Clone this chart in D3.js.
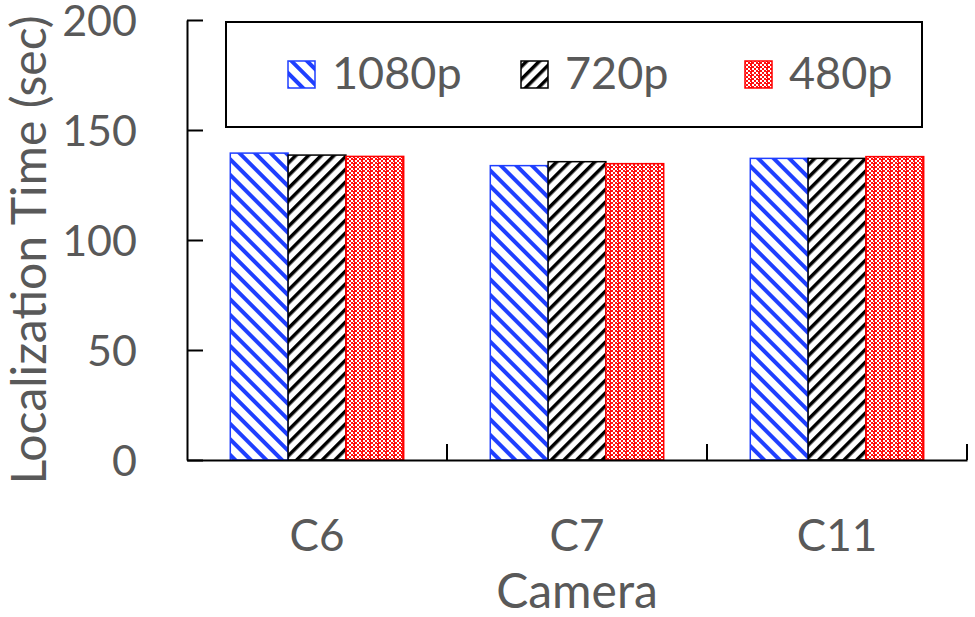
<!DOCTYPE html>
<html>
<head>
<meta charset="utf-8">
<script src="https://cdn.jsdelivr.net/npm/d3@7"></script>
<style>
  body { margin: 0; background: #fff; }
  text { font-family: Lato, "Open Sans", sans-serif; fill: #595959; }
</style>
</head>
<body>
<svg id="chart" width="975" height="617"></svg>
<script>
// chart data
var cameras = ['C6', 'C7', 'C11']
var resolutions = ['1080p', '720p', '480p']
var res1080 = [139.5, 133.8, 137.1]
var res720 = [138.6, 135.6, 137.1]
var res480 = [138.0, 134.7, 137.9]
var yTicks = [0, 50, 100, 150, 200]

var seriesValues = [res1080, res720, res480]
var strokeColors = ['#1f3fff', '#000000', '#ff0000']

var svg = d3.select('#chart')
var margin = {top: 20, right: 8, bottom: 157, left: 187}
var width = 975 - margin.left - margin.right
var height = 617 - margin.top - margin.bottom

// patterns for bar fills
var defs = svg.append('defs')

// blue: stripes running top-left to bottom-right
var p1 = defs.append('pattern')
  .attr('id', 'pat0')
  .attr('patternUnits', 'userSpaceOnUse')
  .attr('width', 11).attr('height', 11)
  .attr('patternTransform', 'rotate(45)')
p1.append('rect').attr('width', 11).attr('height', 11).attr('fill', '#fff')
p1.append('rect').attr('width', 11).attr('height', 4).attr('fill', '#1f3fff')

// black: stripes running bottom-left to top-right
var p2 = defs.append('pattern')
  .attr('id', 'pat1')
  .attr('patternUnits', 'userSpaceOnUse')
  .attr('width', 9).attr('height', 9)
  .attr('patternTransform', 'rotate(-45)')
p2.append('rect').attr('width', 9).attr('height', 9).attr('fill', '#fff')
p2.append('rect').attr('width', 9).attr('height', 3.5).attr('fill', '#000')

// red: fine checker
var p3 = defs.append('pattern')
  .attr('id', 'pat2')
  .attr('patternUnits', 'userSpaceOnUse')
  .attr('width', 8).attr('height', 8)
p3.append('rect').attr('width', 8).attr('height', 8).attr('fill', '#ff1010')
;[[0, 0], [4, 0], [2, 2], [0, 4], [4, 4], [2, 6]].forEach(function (c) {
  p3.append('rect').attr('x', c[0]).attr('y', c[1]).attr('width', 2).attr('height', 2).attr('fill', '#fff')
})
p3.append('rect').attr('x', 6).attr('y', 2).attr('width', 1).attr('height', 1).attr('fill', '#fff')
p3.append('rect').attr('x', 6).attr('y', 6).attr('width', 1).attr('height', 1).attr('fill', '#fff')

var g = svg.append('g')
  .attr('transform', 'translate(' + margin.left + ',' + margin.top + ')')

var x0 = d3.scaleBand()
  .domain(cameras)
  .range([0, width])

var groupWidth = x0.bandwidth() * 0.667
var x1 = d3.scaleBand()
  .domain(resolutions)
  .range([0, groupWidth])

var y = d3.scaleLinear()
  .domain([0, 200])
  .range([height, 0])

// bars
cameras.forEach(function (cam, ci) {
  var gx = x0(cam) + (x0.bandwidth() - groupWidth) / 2
  resolutions.forEach(function (r, si) {
    var v = seriesValues[si][ci]
    g.append('rect')
      .attr('x', gx + x1(r))
      .attr('y', y(v))
      .attr('width', x1.bandwidth())
      .attr('height', height - y(v))
      .attr('fill', 'url(#pat' + si + ')')
      .attr('stroke', strokeColors[si])
      .attr('stroke-width', 1.5)
  })
})

// y axis
var yAxis = g.append('g')
  .call(d3.axisLeft(y).tickValues(yTicks).tickSizeInner(-16).tickSizeOuter(0).tickPadding(50))
yAxis.select('.domain').attr('stroke', '#000').attr('stroke-width', 2)
yAxis.selectAll('.tick line').attr('stroke', '#000').attr('stroke-width', 2)
yAxis.selectAll('.tick text')
  .attr('font-size', 43)
  .attr('font-family', 'Lato, sans-serif')
  .attr('fill', '#595959')
  .attr('dy', '0.36em')

// x axis
var xAxis = g.append('g')
  .attr('transform', 'translate(0,' + height + ')')
  .call(d3.axisBottom(x0).tickSize(0).tickPadding(60))
xAxis.select('.domain').attr('stroke', '#000').attr('stroke-width', 2)
xAxis.selectAll('.tick text')
  .attr('font-size', 44)
  .attr('font-family', 'Lato, sans-serif')
  .attr('fill', '#595959')

// category separator ticks
xAxis.selectAll('.sep')
  .data(cameras)
  .enter().append('line')
  .attr('class', 'sep')
  .attr('x1', function (d) { return x0(d) + x0.bandwidth() })
  .attr('x2', function (d) { return x0(d) + x0.bandwidth() })
  .attr('y1', 0)
  .attr('y2', -16)
  .attr('stroke', '#000')
  .attr('stroke-width', 2)

// axis titles
svg.append('text')
  .attr('transform', 'translate(46,250) rotate(-90)')
  .attr('text-anchor', 'middle')
  .attr('font-size', 48)
  .text('Localization Time (sec)')

svg.append('text')
  .attr('x', 577)
  .attr('y', 608)
  .attr('text-anchor', 'middle')
  .attr('font-size', 48)
  .text('Camera')

// legend
var legend = svg.append('g')
legend.append('rect')
  .attr('x', 226).attr('y', 22)
  .attr('width', 696).attr('height', 105)
  .attr('fill', '#fff')
  .attr('stroke', '#000')
  .attr('stroke-width', 2)

var legendX = [288, 521, 745]
resolutions.forEach(function (r, i) {
  legend.append('rect')
    .attr('x', legendX[i]).attr('y', 61)
    .attr('width', 27).attr('height', 27)
    .attr('fill', 'url(#pat' + i + ')')
    .attr('stroke', strokeColors[i])
    .attr('stroke-width', 1.5)
  legend.append('text')
    .attr('x', legendX[i] + 44)
    .attr('y', 89)
    .attr('font-size', 45)
    .text(r)
})
</script>
</body>
</html>
